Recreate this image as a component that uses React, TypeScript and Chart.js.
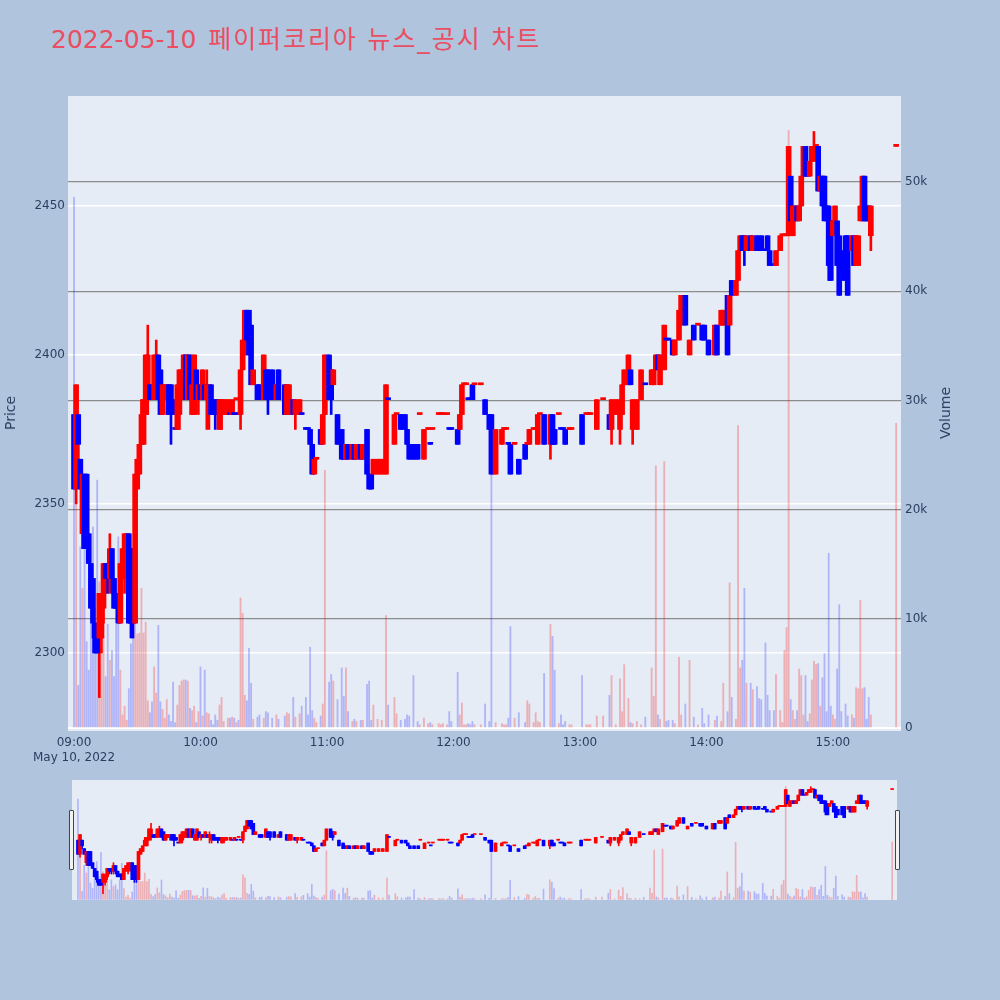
import React, { useEffect, useRef } from "react";
import { Chart, registerables } from "chart.js";

Chart.register(...registerables);

// ---------- data (1-minute candles, 2022-05-10) ----------
const TIMES = [
  "09:00","09:01","09:02","09:03","09:04","09:05","09:06","09:07","09:08","09:09",
  "09:10","09:11","09:12","09:13","09:14","09:15","09:16","09:17","09:18","09:19",
  "09:20","09:21","09:22","09:23","09:24","09:25","09:26","09:27","09:28","09:29",
  "09:30","09:31","09:32","09:33","09:34","09:35","09:36","09:37","09:38","09:39",
  "09:40","09:41","09:42","09:43","09:44","09:45","09:46","09:47","09:48","09:49",
  "09:50","09:51","09:52","09:53","09:54","09:55","09:56","09:57","09:58","09:59",
  "10:00","10:01","10:02","10:03","10:04","10:05","10:06","10:07","10:08","10:09",
  "10:10","10:11","10:13","10:14","10:15","10:16","10:17","10:18","10:19","10:20",
  "10:21","10:22","10:23","10:24","10:25","10:27","10:28","10:30","10:31","10:32",
  "10:34","10:36","10:37","10:40","10:41","10:42","10:44","10:45","10:47","10:48",
  "10:50","10:51","10:52","10:53","10:54","10:55","10:57","10:58","10:59","11:01",
  "11:02","11:03","11:05","11:07","11:08","11:09","11:10","11:12","11:13","11:14",
  "11:16","11:17","11:19","11:20","11:21","11:22","11:24","11:26","11:28","11:29",
  "11:32","11:33","11:35","11:37","11:38","11:39","11:41","11:43","11:44","11:46",
  "11:48","11:49","11:50","11:53","11:54","11:55","11:57","11:58","11:59","12:02",
  "12:03","12:04","12:05","12:06","12:07","12:08","12:09","12:10","12:13","12:15",
  "12:17","12:18","12:20","12:23","12:24","12:25","12:26","12:27","12:29","12:31",
  "12:34","12:35","12:36","12:38","12:39","12:40","12:41","12:43","12:46","12:47",
  "12:48","12:50","12:51","12:52","12:53","12:55","12:56","13:01","13:03","13:04",
  "13:05","13:08","13:11","13:14","13:15","13:17","13:19","13:20","13:21","13:23",
  "13:24","13:25","13:27","13:29","13:31","13:34","13:35","13:36","13:37","13:38",
  "13:40","13:41","13:42","13:44","13:45","13:47","13:48","13:50","13:52","13:54",
  "13:56","13:58","13:59","14:01","14:04","14:05","14:07","14:08","14:10","14:11",
  "14:12","14:14","14:15","14:16","14:17","14:18","14:19","14:21","14:22","14:24",
  "14:25","14:26","14:28","14:29","14:30","14:32","14:33","14:35","14:36","14:37",
  "14:38","14:39","14:40","14:41","14:42","14:43","14:44","14:45","14:46","14:47",
  "14:48","14:49","14:50","14:51","14:52","14:53","14:54","14:55","14:56","14:57",
  "14:58","14:59","15:00","15:01","15:02","15:03","15:04","15:06","15:07","15:09",
  "15:10","15:11","15:12","15:13","15:14","15:15","15:16","15:17","15:18","15:30",
];

const OPEN = [
  2380,2355,2380,2365,2340,2360,2360,2340,2330,2325,
  2310,2310,2305,2305,2315,2330,2330,2325,2335,2325,
  2320,2320,2310,2325,2325,2330,2340,2335,2335,2310,
  2355,2360,2370,2370,2380,2385,2390,2390,2385,2390,
  2400,2395,2380,2385,2385,2390,2390,2385,2375,2375,
  2380,2385,2385,2400,2385,2400,2380,2380,2395,2385,
  2390,2385,2390,2385,2380,2390,2385,2385,2385,2375,
  2380,2380,2380,2380,2380,2380,2385,2380,2380,2395,
  2400,2415,2415,2410,2390,2390,2390,2385,2395,2395,
  2395,2385,2395,2390,2380,2380,2385,2380,2380,2380,
  2375,2375,2375,2370,2360,2365,2375,2370,2380,2400,
  2395,2390,2380,2375,2370,2365,2370,2365,2370,2365,
  2370,2365,2375,2360,2360,2360,2360,2360,2360,2385,
  2370,2380,2380,2380,2375,2370,2370,2370,2380,2365,
  2375,2370,2375,2380,2380,2380,2380,2375,2375,2375,
  2375,2380,2390,2390,2385,2385,2390,2390,2390,2385,
  2380,2380,2360,2370,2375,2375,2370,2370,2370,2365,
  2370,2370,2370,2375,2375,2370,2380,2380,2370,2380,
  2375,2380,2375,2375,2375,2375,2375,2380,2380,2380,
  2380,2375,2385,2380,2375,2380,2375,2380,2390,2390,
  2395,2375,2375,2385,2390,2390,2390,2395,2400,2390,
  2395,2405,2405,2405,2400,2405,2410,2420,2400,2410,
  2410,2410,2410,2405,2400,2410,2410,2410,2420,2410,
  2425,2420,2425,2435,2440,2440,2435,2440,2435,2440,
  2435,2440,2435,2440,2435,2430,2430,2435,2440,2440,
  2440,2440,2460,2440,2445,2450,2445,2450,2460,2470,
  2460,2460,2465,2465,2470,2470,2455,2460,2460,2450,
  2450,2445,2440,2445,2445,2440,2435,2440,2440,2435,
  2440,2430,2430,2445,2445,2460,2450,2450,2440,2470,
];

const HIGH = [
  2380,2390,2380,2365,2360,2360,2360,2340,2330,2325,
  2310,2310,2320,2320,2330,2330,2330,2340,2335,2325,
  2320,2320,2330,2335,2340,2340,2340,2335,2335,2360,
  2365,2370,2385,2385,2400,2410,2390,2390,2400,2405,
  2400,2395,2390,2390,2390,2390,2390,2385,2375,2390,
  2395,2395,2400,2400,2400,2400,2390,2400,2395,2390,
  2390,2395,2390,2395,2390,2390,2385,2385,2385,2385,
  2385,2385,2385,2380,2385,2380,2385,2380,2395,2405,
  2415,2415,2415,2410,2395,2390,2390,2400,2395,2395,
  2395,2390,2395,2390,2390,2390,2385,2385,2385,2380,
  2375,2375,2375,2370,2365,2365,2375,2380,2400,2400,
  2395,2395,2380,2375,2370,2370,2370,2370,2370,2370,
  2370,2370,2375,2360,2360,2365,2365,2365,2390,2385,
  2380,2380,2380,2380,2375,2370,2370,2370,2380,2375,
  2375,2370,2375,2380,2380,2380,2380,2375,2375,2375,
  2380,2390,2390,2390,2385,2385,2390,2390,2390,2385,
  2380,2380,2375,2375,2375,2375,2370,2370,2370,2365,
  2370,2370,2375,2375,2375,2380,2380,2380,2380,2380,
  2375,2380,2375,2375,2375,2375,2375,2380,2380,2380,
  2380,2385,2385,2380,2385,2385,2385,2390,2395,2400,
  2395,2385,2385,2395,2390,2395,2395,2400,2400,2400,
  2410,2405,2405,2405,2405,2415,2420,2420,2405,2410,
  2410,2410,2410,2405,2410,2410,2415,2415,2420,2420,
  2425,2425,2435,2440,2440,2440,2440,2440,2440,2440,
  2435,2440,2435,2440,2435,2430,2435,2440,2440,2440,
  2440,2470,2460,2450,2450,2450,2450,2460,2470,2470,
  2460,2465,2470,2475,2470,2470,2460,2460,2460,2450,
  2450,2445,2445,2450,2445,2440,2435,2440,2440,2440,
  2440,2440,2440,2450,2460,2460,2450,2450,2450,2470,
];

const LOW = [
  2355,2350,2365,2355,2335,2335,2335,2330,2315,2305,
  2300,2300,2285,2300,2310,2320,2320,2320,2320,2315,
  2315,2310,2310,2325,2320,2325,2310,2305,2305,2310,
  2355,2360,2370,2370,2380,2380,2385,2385,2385,2385,
  2385,2380,2380,2385,2380,2380,2370,2380,2375,2375,
  2375,2385,2385,2385,2385,2385,2380,2380,2385,2380,
  2385,2385,2385,2375,2375,2380,2380,2375,2380,2375,
  2375,2380,2380,2380,2380,2380,2385,2380,2375,2395,
  2400,2405,2400,2390,2390,2385,2385,2385,2385,2380,
  2385,2385,2385,2380,2380,2380,2380,2375,2380,2380,
  2375,2375,2370,2360,2360,2365,2370,2370,2380,2385,
  2380,2390,2370,2365,2365,2365,2365,2365,2365,2365,
  2365,2365,2360,2355,2355,2360,2360,2360,2360,2385,
  2370,2380,2375,2375,2370,2365,2365,2365,2380,2365,
  2375,2370,2375,2380,2380,2380,2380,2375,2375,2370,
  2375,2380,2390,2390,2385,2385,2385,2390,2390,2380,
  2375,2360,2360,2370,2375,2375,2370,2360,2370,2360,
  2365,2370,2370,2375,2375,2370,2380,2370,2365,2370,
  2370,2380,2375,2375,2370,2375,2375,2370,2380,2380,
  2380,2375,2385,2375,2370,2380,2370,2380,2390,2390,
  2390,2370,2375,2385,2390,2390,2390,2395,2395,2390,
  2395,2405,2405,2400,2400,2405,2410,2410,2400,2405,
  2410,2405,2405,2400,2400,2400,2410,2410,2400,2410,
  2420,2420,2425,2435,2435,2430,2435,2435,2435,2435,
  2435,2435,2435,2435,2430,2430,2430,2435,2440,2440,
  2440,2440,2445,2440,2445,2445,2445,2450,2460,2460,
  2460,2460,2465,2465,2470,2455,2455,2450,2445,2445,
  2425,2425,2440,2445,2430,2420,2425,2425,2420,2435,
  2430,2430,2430,2445,2445,2445,2445,2445,2435,2470,
];

const CLOSE = [
  2355,2390,2370,2355,2360,2335,2335,2330,2315,2310,
  2300,2300,2320,2315,2330,2325,2325,2335,2325,2315,
  2315,2310,2330,2335,2340,2340,2310,2310,2310,2360,
  2365,2370,2380,2385,2400,2400,2385,2385,2400,2400,
  2385,2380,2390,2390,2390,2380,2380,2380,2375,2390,
  2395,2395,2400,2385,2400,2385,2390,2400,2385,2390,
  2385,2395,2385,2390,2390,2380,2380,2380,2380,2385,
  2385,2385,2385,2380,2385,2380,2385,2380,2395,2405,
  2415,2405,2400,2390,2395,2385,2385,2400,2385,2385,
  2385,2390,2385,2380,2390,2390,2380,2385,2385,2380,
  2375,2375,2370,2360,2365,2365,2370,2380,2400,2385,
  2385,2395,2370,2365,2365,2370,2365,2370,2365,2370,
  2365,2370,2360,2355,2355,2365,2365,2365,2390,2385,
  2380,2380,2375,2375,2370,2365,2365,2365,2380,2375,
  2375,2370,2375,2380,2380,2380,2380,2375,2375,2370,
  2380,2390,2390,2390,2385,2385,2385,2390,2390,2380,
  2375,2360,2375,2375,2375,2375,2370,2360,2370,2360,
  2365,2370,2375,2375,2375,2380,2380,2370,2380,2370,
  2370,2380,2375,2375,2370,2375,2375,2370,2380,2380,
  2380,2385,2385,2375,2385,2385,2385,2390,2395,2400,
  2390,2385,2385,2395,2390,2395,2395,2400,2395,2400,
  2410,2405,2405,2400,2405,2415,2420,2410,2405,2405,
  2410,2405,2405,2400,2410,2400,2415,2415,2400,2420,
  2420,2425,2435,2440,2435,2435,2440,2435,2440,2435,
  2435,2435,2435,2435,2430,2430,2435,2440,2440,2440,
  2440,2470,2445,2450,2450,2445,2450,2460,2470,2460,
  2460,2465,2470,2470,2470,2455,2460,2450,2445,2445,
  2430,2425,2445,2450,2430,2420,2425,2425,2420,2440,
  2430,2440,2440,2450,2460,2445,2445,2445,2450,2470,
];

const VOLUME = [
  48600,20600,3900,16600,12800,19300,7900,5300,12900,18400,
  11000,22700,13400,7100,9600,4700,9500,6200,7100,4700,
  9500,17500,5300,1200,2000,700,3600,7700,8600,9500,
  8600,8700,12800,8700,9700,2500,1400,2400,5600,3200,
  9400,2400,1700,900,2600,1200,600,4200,500,2100,
  3900,4300,4400,4400,4300,1800,1600,2000,500,1500,
  5600,1100,5300,1400,1300,700,300,1200,700,2100,
  2800,600,900,900,1000,900,500,700,11900,10500,
  3000,2500,7300,4100,800,1000,1200,900,1500,1400,
  900,1200,800,1100,1400,1300,2800,1000,1300,2000,
  2800,1200,7400,1600,900,500,1100,2200,23600,4200,
  4900,4300,2600,5500,2900,5500,1500,600,800,600,
  700,700,4000,4300,700,2100,800,700,10300,2100,
  2800,1300,700,800,1200,1100,4800,600,300,900,
  400,500,300,400,300,400,300,1500,600,5100,
  1200,2300,300,300,400,300,600,300,300,2200,
  600,23500,500,400,300,300,900,9300,900,1400,
  500,2500,2200,500,1400,600,500,5000,9500,8400,
  5300,400,1200,300,600,300,300,4800,300,300,
  300,1100,1100,3000,4800,300,4500,1500,5800,2700,
  500,400,600,300,1000,5500,2900,24000,1200,800,
  24400,600,700,700,400,6500,1200,2200,6200,1000,
  300,1800,400,1200,700,1100,600,4100,1500,13300,
  2800,800,27700,5500,6200,12800,4100,4100,3500,3800,
  2700,2600,7800,3000,1600,1600,4900,1600,500,7100,
  9200,54700,2600,1600,800,1600,5400,4800,1200,4800,
  600,1300,4400,6100,5800,5900,2000,4600,6800,1500,
  16000,2000,1200,800,5400,11300,1500,2200,1100,1200,
  900,3700,3600,11700,3600,3700,800,2800,1200,27900,
];

const X_TICKS = [0, 60, 120, 180, 240, 300, 360];
const X_TICK_LABELS = ["09:00", "10:00", "11:00", "12:00", "13:00", "14:00", "15:00"];
const DATE_LABEL = "May 10, 2022";
const PRICE_TICKS = [2300, 2350, 2400, 2450];
const VOLUME_TICKS = [0, 10000, 20000, 30000, 40000, 50000];
const VOLUME_TICK_LABELS = ["0", "10k", "20k", "30k", "40k", "50k"];
const TITLE_DATE = "2022-05-10";
const TITLE_TEXT = "페이퍼코리아 뉴스_공시 차트";

// ---------- axis ranges / styling ----------
const X_MIN = -2.85;
const X_MAX = 392.3;
const PRICE_MIN = 2273.8;
const PRICE_MAX = 2486.9;
const VOL_MIN = -275;
const VOL_MAX = 57875;

const FONT = "'DejaVu Sans', Verdana, sans-serif";
const INK = "#2a3f5f";
const PAGE_BG = "#B0C4DE";
const PLOT_BG = "#E5ECF6";

function minutesOf(t: string) {
  const [h, m] = t.split(":").map(Number);
  return (h - 9) * 60 + m;
}

function directions() {
  const up: boolean[] = [];
  let prevC: number | null = null;
  let prevUp = true;
  for (let i = 0; i < CLOSE.length; i++) {
    const o = OPEN[i], c = CLOSE[i];
    let u: boolean;
    if (c > o) u = true;
    else if (c < o) u = false;
    else if (prevC !== null && c > prevC) u = true;
    else if (prevC !== null && c < prevC) u = false;
    else u = prevUp;
    up.push(u);
    prevC = c;
    prevUp = u;
  }
  return up;
}

function makeDatasets(compact: boolean) {
  const xs = TIMES.map(minutesOf);
  const up = directions();
  const col = up.map((u) => (u ? "#ff0000" : "#0000ff"));
  const vcol = up.map((u) => (u ? "rgba(255,0,0,0.26)" : "rgba(0,0,255,0.23)"));
  return [
    {
      type: "bar",
      label: "Volume",
      yAxisID: "yv",
      data: xs.map((x, i) => ({ x, y: VOLUME[i] })),
      backgroundColor: vcol,
      barThickness: compact ? 1 : 1.2,
      grouped: false,
      order: 3,
    },
    {
      type: "bar",
      label: "wick",
      yAxisID: "y",
      data: xs.map((x, i) => ({ x, y: [LOW[i], HIGH[i]] })),
      backgroundColor: col,
      barThickness: compact ? 1 : 2,
      grouped: false,
      order: 2,
    },
    {
      type: "bar",
      label: "body",
      yAxisID: "y",
      data: xs.map((x, i) => ({
        x,
        y: [Math.min(OPEN[i], CLOSE[i]), Math.max(OPEN[i], CLOSE[i])],
      })),
      backgroundColor: col,
      barThickness: compact ? 3 : 5,
      minBarLength: compact ? 1 : 2,
      grouped: false,
      order: 1,
    },
  ];
}

const plotBg = {
  id: "plotBg",
  beforeDraw(chart: any) {
    const { ctx, chartArea: a } = chart;
    ctx.save();
    ctx.fillStyle = PLOT_BG;
    ctx.fillRect(a.left, a.top, a.right - a.left, a.bottom - a.top);
    ctx.restore();
  },
};

function mainConfig(): any {
  return {
    type: "bar",
    data: { datasets: makeDatasets(false) },
    plugins: [plotBg],
    options: {
      responsive: false,
      animation: false,
      layout: { padding: { top: 96, left: 0, right: 0, bottom: 0 } },
      plugins: { legend: { display: false }, tooltip: { enabled: false } },
      scales: {
        x: {
          type: "linear",
          min: X_MIN,
          max: X_MAX,
          offset: false,
          grid: { display: false, drawTicks: false },
          border: { display: false },
          afterBuildTicks: (s: any) => {
            s.ticks = X_TICKS.map((v) => ({ value: v }));
          },
          afterFit: (s: any) => {
            s.height = 39;
          },
          ticks: {
            autoSkip: false,
            maxRotation: 0,
            minRotation: 0,
            padding: 5,
            color: INK,
            font: { family: FONT, size: 12 },
            callback: (v: number) => {
              const i = X_TICKS.indexOf(v);
              if (i === 0) return [X_TICK_LABELS[0], DATE_LABEL];
              return i >= 0 ? X_TICK_LABELS[i] : "";
            },
          },
        },
        y: {
          position: "left",
          min: PRICE_MIN,
          max: PRICE_MAX,
          grid: { color: "#ffffff", lineWidth: 1.5, drawTicks: false },
          border: { display: false },
          afterBuildTicks: (s: any) => {
            s.ticks = PRICE_TICKS.map((v) => ({ value: v }));
          },
          afterFit: (s: any) => {
            s.width = 68;
          },
          ticks: {
            padding: 3,
            color: INK,
            font: { family: FONT, size: 12 },
            callback: (v: number) => String(v),
          },
        },
        yv: {
          position: "right",
          min: VOL_MIN,
          max: VOL_MAX,
          grid: {
            color: (c: any) => (c.tick && c.tick.value === 0 ? "#ffffff" : "#8c8c8c"),
            lineWidth: (c: any) => (c.tick && c.tick.value === 0 ? 2 : 1.2),
            drawTicks: false,
          },
          border: { display: false },
          afterBuildTicks: (s: any) => {
            s.ticks = VOLUME_TICKS.map((v) => ({ value: v }));
          },
          afterFit: (s: any) => {
            s.width = 99;
          },
          ticks: {
            padding: 4,
            color: INK,
            font: { family: FONT, size: 12 },
            callback: (v: number) => {
              const i = VOLUME_TICKS.indexOf(v);
              return i >= 0 ? VOLUME_TICK_LABELS[i] : "";
            },
          },
        },
      },
    },
  };
}

function navConfig(): any {
  return {
    type: "bar",
    data: { datasets: makeDatasets(true) },
    plugins: [plotBg],
    options: {
      responsive: false,
      animation: false,
      layout: { padding: 0 },
      plugins: { legend: { display: false }, tooltip: { enabled: false } },
      scales: {
        x: { type: "linear", min: X_MIN, max: X_MAX, offset: false, display: false },
        y: { min: PRICE_MIN, max: PRICE_MAX, display: false },
        yv: { position: "right", min: VOL_MIN, max: VOL_MAX, display: false },
      },
    },
  };
}

export default function App() {
  const mainRef = useRef<HTMLCanvasElement>(null);
  const navRef = useRef<HTMLCanvasElement>(null);

  useEffect(() => {
    const c1 = new Chart(mainRef.current as HTMLCanvasElement, mainConfig());
    const c2 = new Chart(navRef.current as HTMLCanvasElement, navConfig());
    return () => {
      c1.destroy();
      c2.destroy();
    };
  }, []);

  const axisTitle: React.CSSProperties = {
    position: "absolute",
    top: 413,
    transform: "translate(-50%, -50%) rotate(-90deg)",
    fontFamily: FONT,
    fontSize: 14,
    color: INK,
    whiteSpace: "nowrap",
    lineHeight: "14px",
  };
  const handle: React.CSSProperties = {
    position: "absolute",
    top: 810,
    width: 3,
    height: 58,
    background: "#f2f2f2",
    border: "1px solid #444",
    borderRadius: 1,
  };

  return (
    <div
      style={{
        position: "absolute",
        left: 0,
        top: 0,
        width: 1000,
        height: 1000,
        background: PAGE_BG,
        overflow: "hidden",
      }}
    >
      <div
        style={{
          position: "absolute",
          left: 51,
          top: 27,
          fontFamily: "'DejaVu Sans', 'Noto Sans CJK KR', sans-serif",
          fontSize: 25,
          lineHeight: "25px",
          color: "rgb(233,78,98)",
          whiteSpace: "nowrap",
        }}
      >
        <span>{TITLE_DATE}</span>
        <span style={{ marginLeft: 12, letterSpacing: "1.9px" }}>{TITLE_TEXT}</span>
      </div>
      <canvas
        ref={mainRef}
        width={1000}
        height={770}
        style={{ position: "absolute", left: 0, top: 0 }}
      />
      <div style={{ ...axisTitle, left: 10 }}>Price</div>
      <div style={{ ...axisTitle, left: 945 }}>Volume</div>
      <canvas
        ref={navRef}
        width={825}
        height={120}
        style={{ position: "absolute", left: 72, top: 780 }}
      />
      <div style={{ ...handle, left: 69 }} />
      <div style={{ ...handle, left: 895 }} />
    </div>
  );
}
